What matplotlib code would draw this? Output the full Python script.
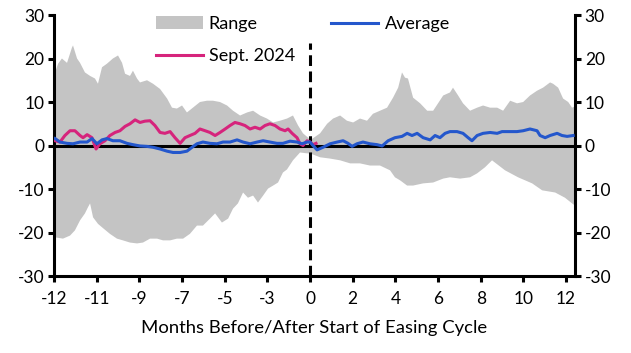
import matplotlib
matplotlib.use("Agg")
import matplotlib.pyplot as plt
from matplotlib.patches import Patch
from matplotlib.lines import Line2D

plt.rcParams['font.family'] = ['Lato', 'DejaVu Sans']
plt.rcParams['axes.unicode_minus'] = False

# months before/after start of easing cycle
upper_x = [-11.95, -11.81, -11.63, -11.39, -11.16, -11.11, -10.92, -10.78, -10.55, -10.31,
           -10.08, -9.94, -9.75, -9.52, -9.24, -9.0, -8.81, -8.67, -8.44, -8.3,
           -8.11, -7.97, -7.64, -7.36, -7.03, -6.7, -6.47, -6.24, -6.0, -5.77,
           -5.49, -5.16, -4.83, -4.55, -4.22, -3.89, -3.61, -3.28, -2.95, -2.67,
           -2.34, -2.02, -1.73, -1.41, -1.08, -0.8, -0.56, -0.33, -0.09, 0.0,
           0.47, 0.8, 1.08, 1.41, 1.73, 2.02, 2.34, 2.67, 2.95, 3.28,
           3.61, 3.89, 4.13, 4.31, 4.45, 4.59, 4.83, 5.16, 5.49, 5.77,
           6.0, 6.24, 6.56, 6.7, 6.94, 7.17, 7.5, 7.83, 8.11, 8.44,
           8.77, 9.05, 9.38, 9.7, 9.99, 10.31, 10.64, 10.92, 11.25, 11.39,
           11.63, 11.86, 12.1, 12.28, 12.42]
upper_y = [16.8, 18.8, 20.0, 19.0, 22.5, 23.0, 20.0, 19.0, 16.8, 16.0,
           15.4, 14.2, 18.0, 18.8, 20.0, 20.7, 19.0, 16.5, 16.0, 17.2,
           15.4, 14.5, 15.0, 14.2, 13.0, 10.8, 8.7, 8.5, 9.2, 7.6,
           8.7, 10.0, 10.3, 10.3, 10.0, 9.2, 8.0, 6.9, 7.6, 8.0,
           6.9, 6.2, 5.3, 5.7, 6.2, 6.9, 4.6, 2.8, 1.8, 1.2,
           2.8, 5.0, 6.2, 6.9, 5.7, 5.3, 6.2, 5.7, 7.3, 8.0,
           8.7, 11.0, 13.3, 16.8, 15.6, 15.4, 11.0, 9.7, 8.0, 8.0,
           9.7, 11.5, 12.2, 13.3, 11.5, 9.7, 8.0, 8.7, 9.2, 8.7,
           8.7, 8.0, 10.3, 9.7, 10.0, 11.5, 12.6, 13.3, 14.5, 14.2,
           13.3, 10.8, 10.0, 8.7, 9.0]

lower_x = [-11.95, -11.58, -11.25, -11.02, -10.78, -10.55, -10.41, -10.31, -10.17, -9.94,
           -9.7, -9.38, -9.05, -8.77, -8.44, -8.11, -7.83, -7.5, -7.17, -6.89,
           -6.56, -6.24, -5.95, -5.63, -5.3, -5.02, -4.69, -4.45, -4.13, -3.84,
           -3.61, -3.38, -3.14, -2.91, -2.67, -2.44, -2.2, -1.97, -1.73, -1.5,
           -1.27, -1.08, -0.8, -0.47, -0.14, 0.0, 0.47, 0.94, 1.41, 1.88,
           2.34, 2.81, 3.28, 3.75, 3.98, 4.22, 4.55, 4.83, 5.3, 5.77,
           6.24, 6.56, 7.03, 7.5, 7.83, 8.2, 8.53, 9.14, 9.75, 10.41,
           10.88, 11.49, 11.95, 12.28, 12.42]
lower_y = [-21.1, -21.4, -20.7, -19.5, -17.2, -15.6, -14.2, -13.3, -16.5, -18.0,
           -19.0, -20.3, -21.4, -21.8, -22.3, -22.5, -22.3, -21.4, -21.4, -21.8,
           -21.8, -21.4, -21.4, -20.3, -18.4, -18.4, -16.8, -15.6, -17.7, -16.8,
           -14.5, -13.3, -10.8, -12.0, -11.5, -13.1, -11.5, -9.9, -9.2, -8.5,
           -6.2, -5.5, -3.4, -1.6, -1.8, -1.8, -2.7, -3.0, -3.4, -4.1,
           -4.1, -4.6, -4.6, -5.7, -7.3, -8.0, -9.2, -9.2, -8.7, -8.5,
           -7.6, -7.3, -7.6, -7.3, -6.4, -5.0, -3.4, -5.7, -7.3, -8.7,
           -10.3, -10.8, -12.0, -13.3, -13.8]

avg_x = [-11.95, -11.72, -11.39, -11.11, -10.78, -10.45, -10.22, -9.99, -9.75, -9.52,
         -9.24, -8.91, -8.58, -8.3, -7.97, -7.64, -7.36, -7.03, -6.7, -6.42,
         -6.09, -5.77, -5.53, -5.3, -5.02, -4.69, -4.36, -4.08, -3.75, -3.42,
         -3.14, -2.81, -2.48, -2.2, -1.88, -1.55, -1.27, -0.94, -0.61, -0.38,
         -0.14, 0.0, 0.14, 0.33, 0.61, 0.94, 1.27, 1.55, 1.78, 1.97,
         2.2, 2.48, 2.81, 3.14, 3.38, 3.66, 3.98, 4.31, 4.55, 4.78,
         5.02, 5.3, 5.63, 5.86, 6.09, 6.33, 6.56, 6.89, 7.17, 7.41,
         7.59, 7.83, 8.11, 8.44, 8.77, 9.0, 9.24, 9.7, 9.99, 10.31,
         10.64, 10.78, 11.02, 11.25, 11.58, 11.81, 12.05, 12.33]
avg_y = [1.6, 0.8, 0.5, 0.4, 0.8, 0.8, 1.6, 0.4, 1.3, 1.6,
         1.1, 1.1, 0.5, 0.2, -0.1, -0.2, -0.4, -0.8, -1.3, -1.6,
         -1.6, -1.3, -0.4, 0.4, 0.8, 0.5, 0.4, 0.8, 0.8, 1.3,
         0.8, 0.4, 0.8, 1.1, 0.8, 0.5, 0.5, 1.0, 0.8, 0.4,
         0.8, 0.8, 0.0, -1.0, -0.4, 0.4, 0.8, 1.1, 0.5, -0.2,
         0.4, 0.8, 0.4, 0.2, -0.1, 1.1, 1.8, 2.1, 2.8, 2.3,
         2.8, 1.8, 1.3, 2.3, 1.8, 2.8, 3.2, 3.2, 2.8, 1.8,
         1.1, 2.3, 2.8, 3.0, 2.8, 3.2, 3.2, 3.2, 3.4, 3.8,
         3.4, 2.3, 1.8, 2.3, 2.8, 2.3, 2.1, 2.3]

sept_x = [-11.95, -11.72, -11.49, -11.25, -11.02, -10.78, -10.64, -10.45, -10.22, -10.03,
          -9.85, -9.61, -9.38, -9.14, -8.91, -8.67, -8.44, -8.2, -7.97, -7.74,
          -7.5, -7.27, -7.03, -6.8, -6.56, -6.33, -6.09, -5.86, -5.63, -5.39,
          -5.16, -4.92, -4.69, -4.45, -4.22, -3.98, -3.75, -3.52, -3.28, -3.05,
          -2.81, -2.58, -2.34, -2.11, -1.88, -1.64, -1.41, -1.17, -1.03, -0.84,
          -0.61, -0.47, -0.33, -0.14, 0.0, 0.14, 0.28]
sept_y = [1.1, 0.8, 2.3, 3.4, 3.4, 2.3, 1.8, 2.5, 1.8, -0.8,
          0.4, 1.1, 2.3, 3.0, 3.4, 4.4, 5.0, 5.9, 5.3, 5.6,
          5.7, 4.6, 3.0, 2.8, 3.2, 1.8, 0.5, 1.8, 2.3, 2.8,
          3.8, 3.4, 3.0, 2.3, 3.0, 3.8, 4.6, 5.3, 5.0, 4.6,
          3.8, 4.2, 3.8, 4.6, 5.0, 4.6, 3.8, 3.4, 3.8, 2.8,
          1.8, 0.4, 0.0, 1.1, 0.8, 0.2, 0.5]

xticks = [-12, -10, -8, -6, -4, -2, 0, 2, 4, 6, 8, 10, 12]
xtick_labels = ['-12', '-11', '-9', '-7', '-5', '-3', '0', '2', '4', '6', '8', '10', '12']
yticks = [-30, -20, -10, 0, 10, 20, 30]

gray = '#c4c4c4'
blue = '#2457cc'
pink = '#d6247c'

fig = plt.figure(figsize=(6.31, 3.53), dpi=100)
ax = fig.add_axes([0.0856, 0.218, 0.8257, 0.7395])

ax.fill(upper_x + lower_x[::-1], upper_y + lower_y[::-1], color=gray, lw=0, zorder=1)
ax.axhline(0, color='black', lw=2.2, zorder=2)
ax.vlines(0, -30, 23.5, colors='black', lw=2.2, linestyles=(0, (3.5, 1.8)), zorder=2)
ax.plot(sept_x, sept_y, color=pink, lw=2.2, zorder=3)
ax.plot(avg_x, avg_y, color=blue, lw=2.2, zorder=4)

ax.set_xlim(-12, 12.42)
ax.set_ylim(-30, 30)
ax.set_xticks(xticks)
ax.set_xticklabels(xtick_labels)
ax.set_yticks(yticks)
ax.set_yticklabels([str(v) for v in yticks])

ax.spines['top'].set_visible(False)
for s in ['left', 'right', 'bottom']:
    ax.spines[s].set_linewidth(2.2)
ax.tick_params(axis='both', direction='out', length=4, width=2.2, labelsize=12.5,
               colors='black', pad=3)
ax.tick_params(axis='y', right=True, labelright=True, left=True, labelleft=True)
ax.tick_params(axis='x', pad=7)

ax.set_xlabel('Months Before/After Start of Easing Cycle', fontsize=13.3, labelpad=9)

handles = [Patch(facecolor=gray, edgecolor='none'),
           Line2D([], [], color=pink, lw=2.2),
           Line2D([], [], color=blue, lw=2.2)]
labels = ['Range', 'Sept. 2024', 'Average']
fig.legend(handles, labels, ncol=2, loc='upper left', bbox_to_anchor=(0.238, 0.97),
           frameon=False, fontsize=13, handlelength=2.6, handletextpad=0.35,
           columnspacing=2.0, labelspacing=0.9, borderpad=0.3, borderaxespad=0.0)

fig.savefig('out.png', dpi=100)
